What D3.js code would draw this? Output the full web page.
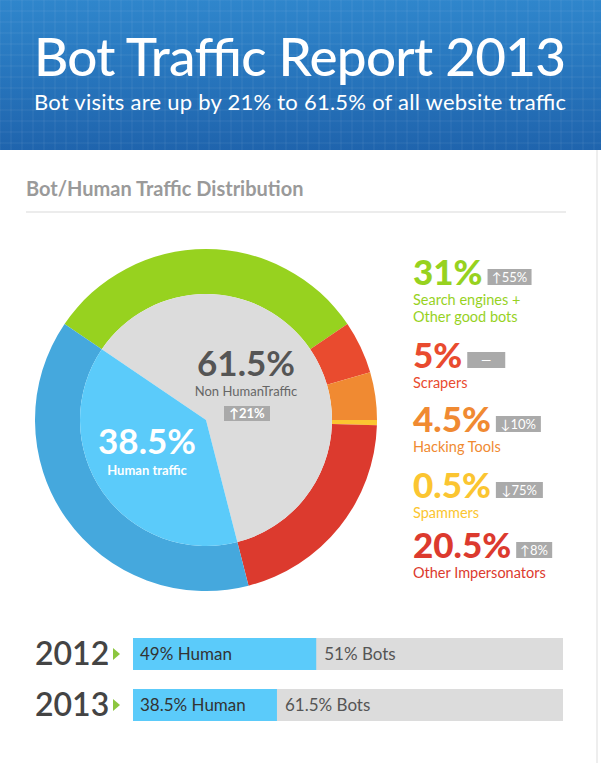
<!DOCTYPE html>
<html><head><meta charset="utf-8">
<script src="https://cdn.jsdelivr.net/npm/d3@7"></script>
<style>body{margin:0;background:#fff;font-family:Lato,sans-serif}</style>
</head><body><svg id="c" width="601" height="763"></svg>
<script>
const segNames = ["Search engines + Other good bots","Scrapers","Hacking Tools","Spammers","Other Impersonators","Human traffic"];
const segValues = [31,5,4.5,0.5,20.5,38.5];
const segColors = ["#97d21f","#e94b2f","#f08a32","#fbc531","#dc3a2e","#45a8dd"];
const segChange = ["↑55%","—","↓10%","↓75%","↑8%",null];
const legendLabels = [["Search engines +","Other good bots"],["Scrapers"],["Hacking Tools"],["Spammers"],["Other Impersonators"]];
const years = ["2012","2013"];
const humanPct = [49,38.5];
const botPct = [51,61.5];

const svg = d3.select("#c");
const defs = svg.append("defs");
const g = defs.append("linearGradient").attr("id","hg").attr("x1",0).attr("y1",0).attr("x2",0).attr("y2",1);
g.append("stop").attr("offset","0").attr("stop-color","#2f86cc");
g.append("stop").attr("offset","1").attr("stop-color","#1f64ad");
svg.append("rect").attr("width",601).attr("height",150).attr("fill","url(#hg)");
const grid = svg.append("g").attr("stroke","#ffffff").attr("stroke-opacity",0.08);
d3.range(0,601,11).forEach(x=>grid.append("line").attr("x1",x).attr("x2",x).attr("y1",0).attr("y2",150));
d3.range(0,150,11).forEach(y=>grid.append("line").attr("y1",y).attr("y2",y).attr("x1",0).attr("x2",601));
svg.append("text").attr("x",300).attr("y",76).attr("text-anchor","middle").attr("fill","#fff")
  .attr("font-size",53).attr("font-weight",500).attr("textLength",532).text("Bot Traffic Report 2013");
svg.append("text").attr("x",300).attr("y",110).attr("text-anchor","middle").attr("fill","#fff")
  .attr("font-size",22).attr("textLength",532).text("Bot visits are up by 21% to 61.5% of all website traffic");
svg.append("line").attr("x1",597).attr("x2",597).attr("y1",150).attr("y2",763).attr("stroke","#ddd");
svg.append("text").attr("x",26).attr("y",196).attr("fill","#9a9a9a").attr("font-size",20).attr("font-weight",700).text("Bot/Human Traffic Distribution");
svg.append("line").attr("x1",26).attr("x2",566).attr("y1",212).attr("y2",212).attr("stroke","#e6e6e6").attr("stroke-width",1.5);

// donut
const cx=206, cy=420;
const pie = d3.pie().sort(null).startAngle(-Math.PI*0.31).endAngle(Math.PI*1.69)(segValues);
const outer = d3.arc().innerRadius(126).outerRadius(171);
const dg = svg.append("g").attr("transform",`translate(${cx},${cy})`);
dg.selectAll("path.o").data(pie).join("path").attr("class","o").attr("d",outer).attr("fill",(d,i)=>segColors[i]);
const botTotal = d3.sum(segValues.slice(0,5));
const inner = d3.pie().sort(null).startAngle(-Math.PI*0.31).endAngle(Math.PI*1.69)([botTotal, segValues[5]]);
const innerArc = d3.arc().innerRadius(0).outerRadius(126);
dg.selectAll("path.i").data(inner).join("path").attr("class","i").attr("d",innerArc).attr("fill",(d,i)=>i?"#5bcbfa":"#dcdcdc");
dg.append("text").attr("x",40).attr("y",-44).attr("text-anchor","middle").attr("fill","#555").attr("font-size",35).attr("font-weight",700).text(botTotal+"%");
dg.append("text").attr("x",40).attr("y",-24).attr("text-anchor","middle").attr("fill","#666").attr("font-size",13).text("Non HumanTraffic");
dg.append("rect").attr("x",18).attr("y",-14).attr("width",46).attr("height",15).attr("fill","#a9a9a9");
dg.append("text").attr("x",41).attr("y",-2).attr("text-anchor","middle").attr("fill","#fff").attr("font-size",13).attr("font-weight",700).text("↑21%");
dg.append("text").attr("x",-59).attr("y",34).attr("text-anchor","middle").attr("fill","#fff").attr("font-size",35).attr("font-weight",700).text(segValues[5]+"%");
dg.append("text").attr("x",-59).attr("y",55).attr("text-anchor","middle").attr("fill","#fff").attr("font-size",13).attr("font-weight",700).text("Human traffic");

// legend
const ly=[285,368,432,498,558];
const badgeW=[44,38,45,47,36];
for(let i=0;i<5;i++){
  const t = svg.append("text").attr("x",413).attr("y",ly[i]).attr("fill",segColors[i]).attr("font-size",35).attr("font-weight",900).text(segValues[i]+"%");
  const w = t.node().getComputedTextLength();
  const bx = 413+w+5;
  svg.append("rect").attr("x",bx).attr("y",ly[i]-16).attr("width",badgeW[i]).attr("height",16).attr("fill","#aaa");
  svg.append("text").attr("x",bx+badgeW[i]/2).attr("y",ly[i]-3).attr("text-anchor","middle").attr("fill","#fff").attr("font-size",13).text(segChange[i]);
  legendLabels[i].forEach((l,j)=>svg.append("text").attr("x",413).attr("y",ly[i]+20+j*17).attr("fill",segColors[i]).attr("font-size",14.5).text(l));
}

// bars
const x = d3.scaleLinear().domain([0,115]).range([133,563]);
const y = d3.scaleBand().domain(years).range([638,721]).paddingInner(0.373);
const bg = svg.append("g");
years.forEach((yr,i)=>{
  const yy=y(yr), h=y.bandwidth();
  bg.append("rect").attr("x",133).attr("y",yy).attr("width",430).attr("height",h).attr("fill","#dcdcdc");
  bg.append("rect").attr("x",x(0)).attr("y",yy).attr("width",x(humanPct[i])-x(0)).attr("height",h).attr("fill","#5bcbfa");
  bg.append("text").attr("x",140).attr("y",yy+h/2+6).attr("fill","#333").attr("font-size",17).text(humanPct[i]+"% Human");
  bg.append("text").attr("x",x(humanPct[i])+8).attr("y",yy+h/2+6).attr("fill","#555").attr("font-size",17).text(botPct[i]+"% Bots");
  bg.append("text").attr("x",35).attr("y",yy+h/2+11).attr("fill","#444").attr("font-size",32).attr("font-weight",600).text(yr);
  bg.append("path").attr("d",`M113,${yy+h/2-6}L120,${yy+h/2}L113,${yy+h/2+6}Z`).attr("fill","#8cc63f");
});
</script></body></html>
